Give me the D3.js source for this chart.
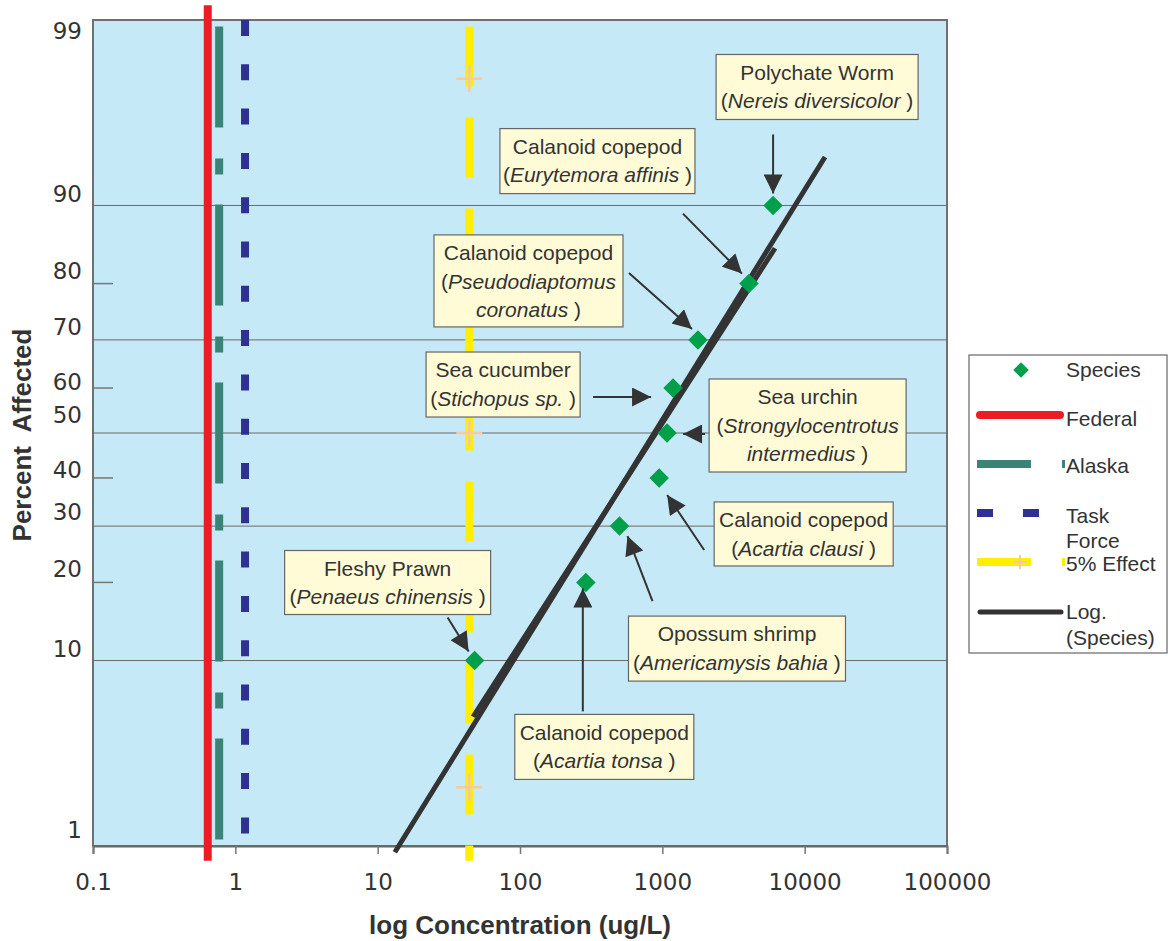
<!DOCTYPE html>
<html>
<head>
<meta charset="utf-8">
<style>
  body { margin: 0; background: #fff; }
  svg text { fill: #333; }
  .tick-label { font-family: "DejaVu Sans", Verdana, sans-serif; font-size: 23px; }
  .title { font-family: "Liberation Sans", Arial, sans-serif; font-weight: bold; font-size: 26px; }
  .note text, .legend text { font-family: "Liberation Sans", Arial, sans-serif; font-size: 21px; }
</style>
</head>
<body>
<svg id="chart" width="1170" height="941"></svg>
<script src="https://cdnjs.cloudflare.com/ajax/libs/d3/7.8.5/d3.min.js"></script>
<script>
// species sensitivity data
var percents = [10, 20, 30, 40, 50, 60, 70, 80, 90];
var concs = [48, 290, 500, 950, 1080, 1190, 1780, 4060, 6000];

// x ticks and y tick labels
var xTicks = [0.1, 1, 10, 100, 1000, 10000, 100000];
var yLabels = [1, 10, 20, 30, 40, 50, 60, 70, 80, 90, 99];
var yGrid = [10, 30, 50, 70, 90];
var yMinor = [20, 40, 60, 80];

// criteria lines: concentration and the percent span they cover
var federal = [0.64, 99.2, 0.8];
var alaska = [0.77, 98.9, 1.1];
var taskForce = [1.17, 99, 1.2];
var effect5 = [44, 98.9, 0.8];
var effectMarks = [97.7, 50, 2.3];

// log trendline (two overlapping pieces as drawn)
var trendA = [[13.2, 0.91], [13900, 94.0]];
var trendB = [[46.8, 5.5], [6190, 85.1]];

// callout text, one entry per species point
var noteLines = [
  [[["Fleshy Prawn"]], [["("], ["Penaeus chinensis", 1], [" )"]]],
  [[["Calanoid copepod"]], [["("], ["Acartia tonsa", 1], [" )"]]],
  [[["Opossum shrimp"]], [["("], ["Americamysis bahia", 1], [" )"]]],
  [[["Calanoid copepod"]], [["("], ["Acartia clausi", 1], [" )"]]],
  [[["Sea urchin"]], [["("], ["Strongylocentrotus", 1]], [["intermedius", 1], [" )"]]],
  [[["Sea cucumber"]], [["("], ["Stichopus sp.", 1], [" )"]]],
  [[["Calanoid copepod"]], [["("], ["Pseudodiaptomus", 1]], [["coronatus", 1], [" )"]]],
  [[["Calanoid copepod"]], [["("], ["Eurytemora affinis", 1], [" )"]]],
  [[["Polychate Worm"]], [["("], ["Nereis diversicolor", 1], [" )"]]]
];

// callout layout, offsets in px from the point: box [x0, y0, w, h], arrow tail, arrow tip
var noteLayout = [
  { box: [-190, -110, 206, 64], tail: [-27, -43], tip: [-6, -9] },
  { box: [-71, 132, 179, 65], tail: [-3, 129], tip: [-3, 6] },
  { box: [9, 90, 217, 65], tail: [33, 75], tip: [8, 10] },
  { box: [55, 24, 179, 64], tail: [45, 72], tip: [8, 17] },
  { box: [42, -54, 197, 93], tail: [38, 1], tip: [16, 1] },
  { box: [-247, -36, 154, 65], tail: [-80, 9], tip: [-22, 9] },
  { box: [-264, -105, 189, 92], tail: [-69, -67], tip: [-6, -11] },
  { box: [-249, -155, 195, 65], tail: [-66, -70], tip: [-7, -10] },
  { box: [-57, -151, 202, 65], tail: [0, -71], tip: [0, -12] }
];

// vertical nudge of each y label relative to its tick (same order as yLabels)
var yLabelNudge = [-16, -12, -14, -14, -8, -18, -6, -13, -13, -12, 11];

// inverse normal cdf (Acklam) for the probit axis
function probit(p) {
  var a = [-39.69683028665376, 220.9460984245205, -275.9285104469687, 138.3577518672690, -30.66479806614716, 2.506628277459239];
  var b = [-54.47609879822406, 161.5858368580409, -155.6989798598866, 66.80131188771972, -13.28068155288572];
  var c = [-0.007784894002430293, -0.3223964580411365, -2.400758277161838, -2.549732539343734, 4.374664141464968, 2.938163982698783];
  var d = [0.007784695709041462, 0.3224671290700398, 2.445134137142996, 3.754408661907416];
  var q, r;
  if (p < 0.02425) {
    q = Math.sqrt(-2 * Math.log(p));
    return (((((c[0]*q+c[1])*q+c[2])*q+c[3])*q+c[4])*q+c[5]) / ((((d[0]*q+d[1])*q+d[2])*q+d[3])*q+1);
  }
  if (p > 1 - 0.02425) {
    q = Math.sqrt(-2 * Math.log(1 - p));
    return -(((((c[0]*q+c[1])*q+c[2])*q+c[3])*q+c[4])*q+c[5]) / ((((d[0]*q+d[1])*q+d[2])*q+d[3])*q+1);
  }
  q = p - 0.5; r = q * q;
  return (((((a[0]*r+a[1])*r+a[2])*r+a[3])*r+a[4])*r+a[5])*q / (((((b[0]*r+b[1])*r+b[2])*r+b[3])*r+b[4])*r+1);
}

var plotL = 93, plotR = 947, plotT = 20, plotB = 846;

var x = d3.scaleLog().domain([0.1, 100000]).range([plotL, plotR]);
var zScale = d3.scaleLinear().domain([probit(0.01), probit(0.99)]).range([plotB, plotT]);
function y(p) { return zScale(probit(p / 100)); }

var svg = d3.select('#chart');

svg.append('defs').append('marker')
  .attr('id', 'head')
  .attr('viewBox', '0 0 10 10')
  .attr('refX', 10).attr('refY', 5)
  .attr('markerUnits', 'userSpaceOnUse')
  .attr('markerWidth', 21).attr('markerHeight', 19)
  .attr('orient', 'auto')
  .append('path').attr('d', 'M0,0L10,5L0,10Z').attr('fill', '#333');

// plot area
svg.append('rect')
  .attr('x', plotL).attr('y', plotT)
  .attr('width', plotR - plotL).attr('height', plotB - plotT)
  .attr('fill', '#c6e9f8')
  .attr('stroke', '#707070').attr('stroke-width', 2);

// gridlines
svg.selectAll('.grid').data(yGrid).enter().append('line')
  .attr('x1', plotL).attr('x2', plotR)
  .attr('y1', function(d) { return y(d); })
  .attr('y2', function(d) { return y(d); })
  .attr('stroke', '#6a6a6a').attr('stroke-width', 1);

svg.selectAll('.minor').data(yMinor).enter().append('line')
  .attr('x1', plotL).attr('x2', plotL + 20)
  .attr('y1', function(d) { return y(d); })
  .attr('y2', function(d) { return y(d); })
  .attr('stroke', '#777').attr('stroke-width', 1.5);

// y labels sit a little off their tick
svg.selectAll('.ylab').data(yLabels).enter().append('text')
  .attr('class', 'tick-label')
  .attr('x', 82)
  .attr('y', function(d, i) { return y(d) + yLabelNudge[i]; })
  .attr('dy', '0.36em')
  .attr('text-anchor', 'end')
  .text(function(d) { return d; });

// x axis
var xAxis = svg.append('g')
  .attr('transform', 'translate(0,' + plotB + ')')
  .call(d3.axisBottom(x).tickValues(xTicks).tickSize(8).tickPadding(20)
    .tickFormat(function(d) { return String(d); }));
xAxis.select('.domain').attr('stroke', '#666').attr('stroke-width', 2);
xAxis.selectAll('.tick line').attr('stroke', '#777').attr('stroke-width', 1.5);
xAxis.attr('font-family', null).attr('font-size', null);
xAxis.selectAll('.tick text').attr('class', 'tick-label').attr('fill', '#333');

// criteria lines
function vline(spec, color, width, dash) {
  svg.append('line')
    .attr('x1', x(spec[0])).attr('x2', x(spec[0]))
    .attr('y1', y(spec[1])).attr('y2', y(spec[2]))
    .attr('stroke', color).attr('stroke-width', width)
    .attr('stroke-dasharray', dash);
}
vline(alaska, '#3b8377', 8, '101 31 16 30');
vline(taskForce, '#2e3192', 8, '16 28.3');
vline(effect5, '#ffee00', 8, '60 31');
vline(federal, '#ed1c24', 8, null);

svg.selectAll('.plus').data(effectMarks).enter().append('path')
  .attr('d', function(d) {
    var cx = x(effect5[0]), cy = y(d);
    return 'M' + (cx - 13) + ',' + cy + 'H' + (cx + 13) + 'M' + cx + ',' + (cy - 13) + 'V' + (cy + 13);
  })
  .attr('stroke', '#f8c99c').attr('stroke-width', 2.5).attr('fill', 'none');

// trendline
var line = d3.line().x(function(d) { return x(d[0]); }).y(function(d) { return y(d[1]); });
[trendA, trendB].forEach(function(t) {
  svg.append('path').datum(t).attr('d', line)
    .attr('stroke', '#333').attr('stroke-width', 5).attr('fill', 'none');
});

// species points
var pts = percents.map(function(p, i) { return { px: x(concs[i]), py: y(p), i: i }; });
svg.selectAll('.pt').data(pts).enter().append('path')
  .attr('d', d3.symbol().type(d3.symbolSquare).size(190))
  .attr('transform', function(d) { return 'translate(' + d.px + ',' + d.py + ') rotate(45)'; })
  .attr('fill', '#00a04b');

// callouts
var notes = svg.selectAll('.note').data(pts).enter().append('g').attr('class', 'note');
notes.append('line')
  .attr('x1', function(d) { return d.px + noteLayout[d.i].tail[0]; })
  .attr('y1', function(d) { return d.py + noteLayout[d.i].tail[1]; })
  .attr('x2', function(d) { return d.px + noteLayout[d.i].tip[0]; })
  .attr('y2', function(d) { return d.py + noteLayout[d.i].tip[1]; })
  .attr('stroke', '#333').attr('stroke-width', 2)
  .attr('marker-end', 'url(#head)');
notes.append('rect')
  .attr('x', function(d) { return d.px + noteLayout[d.i].box[0]; })
  .attr('y', function(d) { return d.py + noteLayout[d.i].box[1]; })
  .attr('width', function(d) { return noteLayout[d.i].box[2]; })
  .attr('height', function(d) { return noteLayout[d.i].box[3]; })
  .attr('fill', '#fffbd6').attr('stroke', '#666').attr('stroke-width', 1.2);
notes.each(function(d) {
  var b = noteLayout[d.i].box;
  var g = d3.select(this);
  noteLines[d.i].forEach(function(ln, k) {
    var t = g.append('text')
      .attr('x', d.px + b[0] + b[2] / 2)
      .attr('y', d.py + b[1] + 18 + k * 28.5)
      .attr('dy', '0.35em')
      .attr('text-anchor', 'middle')
      .style('white-space', 'pre');
    ln.forEach(function(seg) {
      t.append('tspan').text(seg[0]).attr('font-style', seg[1] ? 'italic' : null);
    });
  });
});

// axis titles
svg.append('text').attr('class', 'title')
  .attr('x', 520).attr('y', 925).attr('dy', '0.35em')
  .attr('text-anchor', 'middle')
  .text('log Concentration (ug/L)');
svg.append('text').attr('class', 'title')
  .attr('transform', 'translate(22,435) rotate(-90)')
  .attr('dy', '0.35em')
  .attr('text-anchor', 'middle')
  .style('white-space', 'pre')
  .text('Percent  Affected');

// legend
var lg = svg.append('g').attr('class', 'legend');
lg.append('rect').attr('x', 969).attr('y', 355).attr('width', 198).attr('height', 298)
  .attr('fill', '#fff').attr('stroke', '#666').attr('stroke-width', 1.2);
lg.append('path').attr('d', d3.symbol().type(d3.symbolSquare).size(120))
  .attr('transform', 'translate(1021,370) rotate(45)').attr('fill', '#00a04b');
lg.append('line').attr('x1', 980).attr('x2', 1060).attr('y1', 415).attr('y2', 415)
  .attr('stroke', '#ed1c24').attr('stroke-width', 8).attr('stroke-linecap', 'round');
lg.append('line').attr('x1', 977).attr('x2', 1031).attr('y1', 464).attr('y2', 464)
  .attr('stroke', '#3b8377').attr('stroke-width', 8);
lg.append('line').attr('x1', 1062).attr('x2', 1065).attr('y1', 464).attr('y2', 464)
  .attr('stroke', '#3b8377').attr('stroke-width', 8);
lg.append('line').attr('x1', 977).attr('x2', 1040).attr('y1', 513).attr('y2', 513)
  .attr('stroke', '#2e3192').attr('stroke-width', 8).attr('stroke-dasharray', '16 30');
lg.append('line').attr('x1', 977).attr('x2', 1031).attr('y1', 562).attr('y2', 562)
  .attr('stroke', '#ffee00').attr('stroke-width', 8);
lg.append('line').attr('x1', 1062).attr('x2', 1065).attr('y1', 562).attr('y2', 562)
  .attr('stroke', '#ffee00').attr('stroke-width', 8);
lg.append('path').attr('d', 'M1014,562H1027M1020,555V569')
  .attr('stroke', '#f8c99c').attr('stroke-width', 2);
lg.append('line').attr('x1', 980).attr('x2', 1061).attr('y1', 612).attr('y2', 612)
  .attr('stroke', '#333').attr('stroke-width', 5).attr('stroke-linecap', 'round');

var legendText = [['Species', 370], ['Federal', 419], ['Alaska', 466], ['Task', 516],
  ['Force', 541], ['5% Effect', 564], ['Log.', 612], ['(Species)', 638]];
lg.selectAll('.lt').data(legendText).enter().append('text')
  .attr('x', 1066).attr('y', function(d) { return d[1]; }).attr('dy', '0.35em')
  .text(function(d) { return d[0]; });
</script>
</body>
</html>
